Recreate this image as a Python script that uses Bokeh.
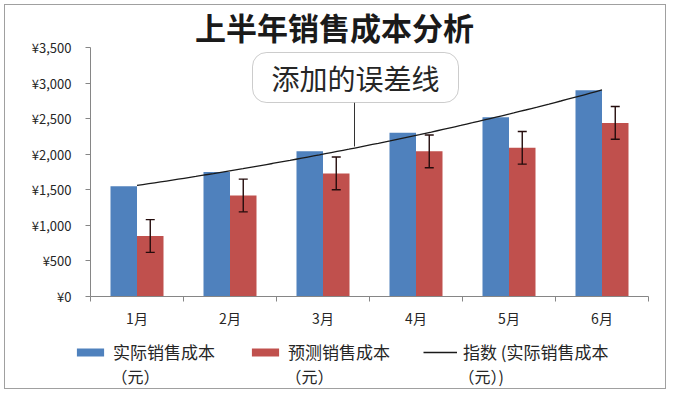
import numpy as np
from bokeh.plotting import figure
from bokeh.models import (ColumnDataSource, Range1d, FixedTicker, Whisker, TeeHead, Label,
                          BoxAnnotation, Arrow, Legend, LegendItem)
from bokeh.embed import file_html
from bokeh.resources import INLINE

# ---------------- data ----------------
months = ["1月", "2月", "3月", "4月", "5月", "6月"]
actual_cost = [1550, 1750, 2040, 2300, 2520, 2900]
forecast_cost = [850, 1420, 1730, 2040, 2090, 2440]
forecast_error = 230
y_ticks = [0, 500, 1000, 1500, 2000, 2500, 3000, 3500]
y_tick_labels = ["¥0", "¥500", "¥1,000", "¥1,500", "¥2,000", "¥2,500", "¥3,000", "¥3,500"]
title_text = "上半年销售成本分析"
callout_text = "添加的误差线"
series_names = ["实际销售成本", "预测销售成本", "指数 (实际销售成本"]
series_units = ["（元）", "（元）", "（元）)"]

FONT = "Noto Sans CJK SC"
BLUE = "#4F81BD"
RED = "#C0504D"
AXIS = "#868686"

# ---------------- layout geometry (pixels) ----------------
W, H = 662, 385                  # canvas size
AX_LEFT, AX_RIGHT = 85, 643      # plot area x in canvas px
AX_TOP, AX_BOTTOM = 42, 291      # plot area y in canvas px
Y_MAX = 3500

n = len(months)
px_x = (AX_RIGHT - AX_LEFT) / n
px_y = (AX_BOTTOM - AX_TOP) / Y_MAX
x_range = Range1d(-AX_LEFT / px_x, (W - AX_LEFT) / px_x)
y_range = Range1d(-(H - AX_BOTTOM) / px_y, AX_BOTTOM / px_y)

xc = np.arange(n) + 0.5
bw = 0.285
src = ColumnDataSource(dict(
    x_blue=xc - bw / 2,
    x_red=xc + bw / 2,
    actual=actual_cost,
    forecast=forecast_cost,
    upper=[v + forecast_error for v in forecast_cost],
    lower=[v - forecast_error for v in forecast_cost],
))

# exponential trendline (Excel style: y = a*exp(b*x), x = 1..n)
idx = np.arange(1, n + 1)
b, ln_a = np.polyfit(idx, np.log(actual_cost), 1)
tx = np.linspace(1, n, 80)
trend_src = ColumnDataSource(dict(x=tx - 0.5, y=np.exp(ln_a) * np.exp(b * tx)))

p = figure(width=W, height=H, x_range=x_range, y_range=y_range,
           output_backend="svg", toolbar_location=None,
           min_border_left=0, min_border_right=0, min_border_top=0, min_border_bottom=0)
p.outline_line_color = None
p.xgrid.visible = False
p.ygrid.visible = False
p.background_fill_color = "white"
p.border_fill_color = "white"
p.styles = {"margin-left": "4px", "margin-top": "4px", "border": "1px solid #a0a0a0"}

r_blue = p.vbar(x="x_blue", top="actual", width=bw, source=src, fill_color=BLUE, line_color=None)
r_red = p.vbar(x="x_red", top="forecast", width=bw, source=src, fill_color=RED, line_color=None)

whisk = Whisker(source=src, base="x_red", upper="upper", lower="lower", level="overlay",
                line_color="#240c0c", line_width=1.4,
                upper_head=TeeHead(size=9, line_color="#240c0c", line_width=1.4),
                lower_head=TeeHead(size=9, line_color="#240c0c", line_width=1.4))
p.add_layout(whisk)

r_trend = p.line("x", "y", source=trend_src, line_color="#1a1a1a", line_width=1.3)

# axes (fixed inside the plot area)
xa = p.xaxis[0]
xa.fixed_location = 0
xa.bounds = (0, n)
xa.ticker = FixedTicker(ticks=[float(v) for v in xc], minor_ticks=list(range(n + 1)))
xa.major_label_overrides = {float(v): m for v, m in zip(xc, months)}
xa.major_tick_line_color = None
xa.major_tick_out = 0
xa.major_tick_in = 0
xa.minor_tick_out = 5
xa.minor_tick_in = 0
xa.minor_tick_line_color = AXIS
xa.axis_line_color = AXIS
xa.major_label_standoff = 6
xa.major_label_text_font = FONT
xa.major_label_text_font_size = "14px"
xa.major_label_text_color = "#262626"

ya = p.yaxis[0]
ya.fixed_location = 0
ya.bounds = (0, Y_MAX)
ya.ticker = FixedTicker(ticks=y_ticks)
ya.major_label_overrides = dict(zip(y_ticks, y_tick_labels))
ya.major_tick_out = 5
ya.major_tick_in = 0
ya.minor_tick_line_color = None
ya.major_tick_line_color = AXIS
ya.axis_line_color = AXIS
ya.major_label_standoff = 14
ya.major_label_text_font = FONT
ya.major_label_text_font_size = "13px"
ya.major_label_text_color = "#262626"

# title (screen units: from canvas bottom-left)
p.add_layout(Label(x=329, y=H - 21, x_units="screen", y_units="screen", text=title_text,
                   text_font=FONT, text_font_size="31px", text_font_style="bold",
                   text_align="center", text_baseline="middle", text_color="#1a1a1a"))

# callout
p.add_layout(BoxAnnotation(left=247, right=453, top=H - 47, bottom=H - 97,
                           left_units="screen", right_units="screen",
                           top_units="screen", bottom_units="screen",
                           fill_color="white", fill_alpha=1.0, line_color="#555555",
                           line_width=1, border_radius=14, level="overlay"))
p.add_layout(Label(x=350, y=H - 72, x_units="screen", y_units="screen", text=callout_text,
                   text_font=FONT, text_font_size="28px", text_align="center",
                   text_baseline="middle", text_color="#262626", level="overlay"))
p.add_layout(Arrow(end=None, x_start=349, y_start=H - 97, x_end=349, y_end=H - 141,
                   start_units="screen", end_units="screen",
                   line_color="#333333", line_width=1))

# legend
legend = Legend(items=[LegendItem(label=series_names[0], renderers=[r_blue]),
                       LegendItem(label=series_names[1], renderers=[r_red]),
                       LegendItem(label=series_names[2], renderers=[r_trend])],
                orientation="horizontal", location=(68, 26),
                padding=0, margin=0, spacing=5, label_standoff=6,
                glyph_width=34, glyph_height=10, label_width=130, label_height=20,
                border_line_color=None, background_fill_alpha=0,
                label_text_font=FONT, label_text_font_size="17px", label_text_color="#262626")
p.add_layout(legend, "center")

for ux, u in zip([106, 280, 453], series_units):
    p.add_layout(Label(x=ux, y=15, x_units="screen", y_units="screen", text=u,
                       text_font=FONT, text_font_size="16px", text_baseline="middle",
                       text_color="#262626"))

open("out.html", "w").write(file_html(p, INLINE))
